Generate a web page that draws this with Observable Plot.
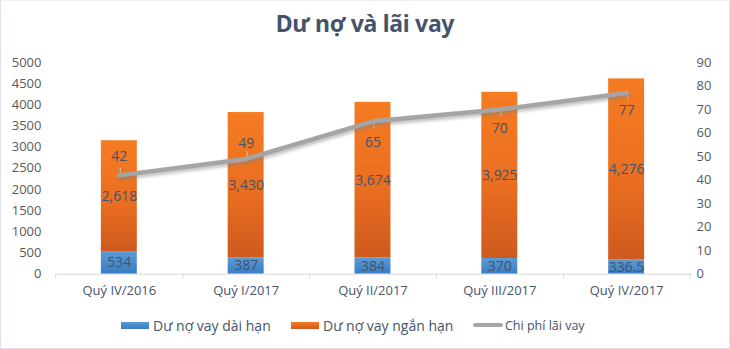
<!DOCTYPE html>
<html>
<head>
<meta charset="utf-8">
<script src="https://cdn.jsdelivr.net/npm/d3@7"></script>
<script src="https://cdn.jsdelivr.net/npm/@observablehq/plot@0.6"></script>
<style>
  html, body { margin: 0; padding: 0; background: #fff; }
  #wrap { position: relative; width: 728px; height: 347px; border: 1px solid #dde2ea; border-top-color: #f2f2f2; background: #fff; overflow: hidden; font-family: "Open Sans", "Noto Sans", sans-serif; }
  #title { position: absolute; left: 0; top: 6px; width: 728px; text-align: center; font-family: "Noto Sans", "Open Sans", sans-serif; font-weight: 700; font-size: 23px; color: #44546A; letter-spacing: -0.3px; }
  #chart { position: absolute; left: -1px; top: 44px; }
  #legend { position: absolute; top: 314px; left: 0; width: 728px; height: 20px; font-size: 14px; color: #44546A; }
  .item { position: absolute; top: 0; display: flex; align-items: center; height: 20px; white-space: nowrap; }
  .sw { display: inline-block; width: 28px; height: 7px; margin-right: 4px; }
  .ln { display: inline-block; width: 30px; height: 4px; border-radius: 2px; background: #A5A5A5; margin-right: 2px; }
</style>
</head>
<body>
<div id="wrap">
  <div id="title">Dư nợ và lãi vay</div>
  <div id="chart"></div>
  <div id="legend"></div>
</div>
<script>
const categories = ["Quý IV/2016", "Quý I/2017", "Quý II/2017", "Quý III/2017", "Quý IV/2017"];
const longTerm = [534, 387, 384, 370, 336.5];
const shortTerm = [2618, 3430, 3674, 3925, 4276];
const interest = [42, 49, 65, 70, 77];
const longLabels = ["534", "387", "384", "370", "336.5"];
const shortLabels = ["2,618", "3,430", "3,674", "3,925", "4,276"];
const leftTicks = [0, 500, 1000, 1500, 2000, 2500, 3000, 3500, 4000, 4500, 5000];
const rightTicks = [0, 10, 20, 30, 40, 50, 60, 70, 80, 90];
const seriesNames = ["Dư nợ vay dài hạn", "Dư nợ vay ngắn hạn", "Chi phí lãi vay"];

// pixel offsets of the line's value labels (style)
const lineLabelDy = [-19, -15, 21, 19, 17];

const leftMax = 5000, rightMax = 90;
const toLeft = v => v * leftMax / rightMax;

const W = 730, H = 266;
const mL = 55, mR = 38, mT = 17, mB = 37;
const innerH = H - mT - mB;
const unitsPerPx = leftMax / innerH;
const step = (W - mL - mR) / categories.length;

const rows = categories.map((c, i) => ({
  cat: c,
  long: longTerm[i],
  short: shortTerm[i],
  total: longTerm[i] + shortTerm[i],
  interest: interest[i],
  iy: toLeft(interest[i]),
  longLabel: longLabels[i],
  shortLabel: shortLabels[i],
  labelY: toLeft(interest[i]) - lineLabelDy[i] * unitsPerPx,
  leaderY: toLeft(interest[i]) - Math.sign(lineLabelDy[i]) * 7 * unitsPerPx
}));

const defs = () => {
  const ns = "http://www.w3.org/2000/svg";
  const d = document.createElementNS(ns, "defs");
  d.innerHTML = `
    <linearGradient id="gOrange" x1="0" y1="0" x2="0" y2="1">
      <stop offset="0" stop-color="#F57C22"/>
      <stop offset="0.55" stop-color="#EA6E21"/>
      <stop offset="1" stop-color="#CF5A1E"/>
    </linearGradient>
    <linearGradient id="gBlue" x1="0" y1="0" x2="0" y2="1">
      <stop offset="0" stop-color="#5B9BD5"/>
      <stop offset="1" stop-color="#3A7CC4"/>
    </linearGradient>
    <filter id="shadow" x="-10%" y="-50%" width="120%" height="200%">
      <feGaussianBlur stdDeviation="1.5"/>
    </filter>`;
  return d;
};

const chart = Plot.plot({
  width: W,
  height: H,
  marginTop: mT,
  marginBottom: mB,
  marginLeft: mL,
  marginRight: mR,
  style: { fontFamily: "'Open Sans', 'Noto Sans', sans-serif", fontSize: "12px", color: "#595959", background: "transparent" },
  x: { type: "band", domain: categories, paddingInner: 0.715, paddingOuter: 0.3575, label: null },
  y: { domain: [0, leftMax], label: null },
  marks: [
    defs,
    Plot.barY(rows, { x: "cat", y1: 0, y2: "long", fill: "url(#gBlue)" }),
    Plot.barY(rows, { x: "cat", y1: "long", y2: "total", fill: "url(#gOrange)" }),
    Plot.ruleY([0], { stroke: "#D9D9D9", strokeWidth: 1 }),
    Plot.ruleX(rows, { x: "cat", y1: 0, y2: -5 * unitsPerPx, dx: step / 2, stroke: "#D9D9D9" }),
    Plot.ruleX([rows[0]], { x: "cat", y1: 0, y2: -5 * unitsPerPx, dx: -step / 2, stroke: "#D9D9D9" }),
    Plot.ruleX(rows, { x: "cat", y1: "iy", y2: "leaderY", stroke: "#BFBFBF", strokeWidth: 1.2, dx: 1 }),
    Plot.lineY(rows, { x: "cat", y: "iy", stroke: "#7f7f7f", strokeWidth: 5, strokeOpacity: 0.45, dy: 2.5, dx: 1 }),
    Plot.lineY(rows, { x: "cat", y: "iy", stroke: "#A5A5A5", strokeWidth: 4.5, strokeLinecap: "round", strokeLinejoin: "round" }),
    Plot.text(rows, { x: "cat", y: d => d.long / 2, text: "longLabel", fill: "#44546A", fontSize: 14 }),
    Plot.text(rows, { x: "cat", y: d => d.long + d.short / 2, text: "shortLabel", fill: "#44546A", fontSize: 14 }),
    Plot.text(rows, { x: "cat", y: "labelY", text: d => String(d.interest), fill: "#44546A", fontSize: 14 }),
    Plot.axisY(leftTicks, { anchor: "left", tickSize: 0, tickPadding: 14, fontSize: 13, fill: "#595959", tickFormat: d => String(d) }),
    Plot.axisY(rightTicks.map(toLeft), { anchor: "right", tickSize: 0, tickPadding: 5, fontSize: 13, fill: "#595959", tickFormat: d => String(Math.round(d * rightMax / leftMax)), textAnchor: "start" }),
    Plot.axisX({ tickSize: 0, tickPadding: 12, fontSize: 13, fill: "#44546A" })
  ]
});

{
  const lines = chart.querySelectorAll("g[aria-label='line']");
  if (lines[0]) lines[0].setAttribute("filter", "url(#shadow)");
}
document.getElementById("chart").appendChild(chart);

const legend = document.getElementById("legend");
const items = [
  { name: seriesNames[0], left: 120, html: '<span class="sw" style="background:linear-gradient(#5B9BD5,#3A7CC4)"></span>' },
  { name: seriesNames[1], left: 290, html: '<span class="sw" style="background:linear-gradient(#F57C22,#CF5A1E)"></span>' },
  { name: seriesNames[2], left: 472, html: '<span class="ln"></span>', small: true }
];
items.forEach(it => {
  const el = document.createElement("div");
  el.className = "item";
  el.style.left = it.left + "px";
  el.innerHTML = it.html + `<span style="font-size:${it.small ? 12.5 : 14}px">${it.name}</span>`;
  legend.appendChild(el);
});
</script>
</body>
</html>
